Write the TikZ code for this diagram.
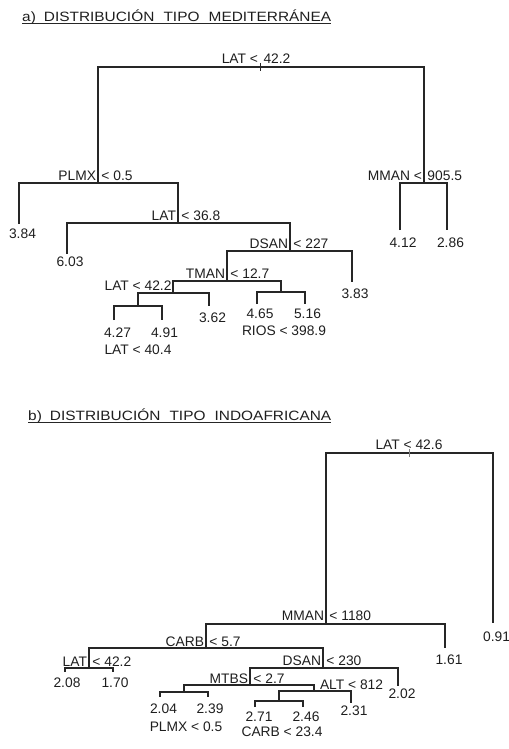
\documentclass[tikz,border=0pt]{standalone}
\usepackage{fontspec}
\setmainfont{Liberation Sans}
\usepackage{graphicx}
\usepackage{tikz}
\definecolor{ramita}{RGB}{38,38,38}
\definecolor{texto}{RGB}{30,30,30}
\newcommand{\letra}{\fontsize{13.8bp}{16bp}\selectfont}
\newcommand{\corte}[2]{\makebox[0pt][r]{#1\hspace{2bp}}\makebox[0pt][l]{\hspace{3.5bp}#2}}
\tikzset{rama/.style={draw=ramita, line width=1.6bp},
  marca/.style={draw=ramita, line width=0.8bp},
  lab/.style={anchor=base, inner sep=0pt, text=texto, font=\letra, yshift=3bp},
  val/.style={anchor=base, inner sep=0pt, text=texto, font=\letra},
  titulo/.style={anchor=base west, inner sep=0pt, text=texto, font=\fontsize{13.5bp}{16bp}\selectfont}}

\begin{document}
\begin{tikzpicture}[x=1bp,y=-1bp]
		 \useasboundingbox (0,0) rectangle (509,749);
		 % a) mediterranea
		 \node[titulo] (ta) at (22,21.7) {\resizebox{309bp}{\height}{a)\hspace{7bp}DISTRIBUCIÓN\hspace{8bp}TIPO\hspace{8bp}MEDITERRÁNEA}};
		 \draw[marca] ([yshift=-1.8bp]ta.base west) -- ([yshift=-1.8bp]ta.base east);

		 \coordinate (raiz) at (260,67);
		 \coordinate (plmx) at (98,183);
		 \coordinate (mman) at (424,183);
		 \coordinate (h384) at (19,224);
		 \coordinate (lat368) at (178,223);
		 \coordinate (h603) at (67,254);
		 \coordinate (dsan) at (290,251);
		 \coordinate (tman) at (227,281);
		 \coordinate (h383) at (352,282);
		 \coordinate (lat422) at (173,293);
		 \coordinate (rios) at (281,292);
		 \coordinate (lat404) at (138,306);
		 \coordinate (h362) at (209,306);
		 \coordinate (h427) at (114,320);
		 \coordinate (h491) at (162,320);
		 \coordinate (h465) at (257,304);
		 \coordinate (h516) at (305,304);
		 \coordinate (h412) at (400,230);
		 \coordinate (h286) at (447,230);

		 \draw[rama] (plmx) |- (raiz) -| (mman);
		 \draw[rama] (h384) |- (plmx) -| (lat368);
		 \draw[rama] (h603) |- (lat368) -| (dsan);
		 \draw[rama] (tman) |- (dsan) -| (h383);
		 \draw[rama] (lat422) |- (tman) -| (rios);
		 \draw[rama] (lat404) |- (lat422) -| (h362);
		 \draw[rama] (h427) |- (lat404) -| (h491);
		 \draw[rama] (h465) |- (rios) -| (h516);
		 \draw[rama] (h412) |- (mman) -| (h286);
		 \draw[marca] ([yshift=4bp]raiz) -- ([yshift=-4bp]raiz);

		 \node[lab] (lraiz) at (raiz) {\corte{LAT <}{42.2}};
		 \node[lab] (lplmx) at (plmx) {\corte{PLMX}{< 0.5}};
		 \node[lab] (llat368) at (lat368) {\corte{LAT}{< 36.8}};
		 \node[lab] (ldsan) at (dsan) {\corte{DSAN}{< 227}};
		 \node[lab] (ltman) at (tman) {\corte{TMAN}{< 12.7}};
		 \node[lab] (llat422) at (lat422) {\makebox[0pt][r]{LAT < 42.2\hspace{1.5bp}}};
		 \node[lab] (lmman) at (mman) {\corte{MMAN <}{905.5}};
		 \node[val] (llat404) at (138,354) {LAT < 40.4};
		 \node[val] (lrios) at (284,335) {RIOS < 398.9};

		 \node[val] (v384) at (22.5,238) {3.84};
		 \node[val] (v603) at (70,266) {6.03};
		 \node[val] (v383) at (355,298) {3.83};
		 \node[val] (v362) at (212.5,322) {3.62};
		 \node[val] (v465) at (260,318) {4.65};
		 \node[val] (v516) at (307.5,318) {5.16};
		 \node[val] (v427) at (117.5,337) {4.27};
		 \node[val] (v491) at (164.5,337) {4.91};
		 \node[val] (v412) at (403,247) {4.12};
		 \node[val] (v286) at (450.5,247) {2.86};

		 % b) indoafricana
		 \node[titulo] (tb) at (28,420.5) {\resizebox{303bp}{\height}{b)\hspace{7bp}DISTRIBUCIÓN\hspace{8bp}TIPO\hspace{8bp}INDOAFRICANA}};
		 \draw[marca] ([yshift=-1.8bp]tb.base west) -- ([yshift=-1.8bp]tb.base east);

		 \coordinate (raiz2) at (409,453);
		 \coordinate (mman2) at (326,624);
		 \coordinate (h091) at (493,623);
		 \coordinate (carb) at (206,648);
		 \coordinate (h161) at (445,648);
		 \coordinate (lat2) at (89,668);
		 \coordinate (dsan2) at (323,668);
		 \coordinate (h208) at (65,672);
		 \coordinate (h170) at (113,672);
		 \coordinate (mtbs) at (250,685);
		 \coordinate (h202) at (398,686);
		 \coordinate (plmx2) at (184,692);
		 \coordinate (alt) at (314,691);
		 \coordinate (h204) at (160,697);
		 \coordinate (h239) at (208,697);
		 \coordinate (carb2) at (279,701);
		 \coordinate (h231) at (351,703);
		 \coordinate (h271) at (255,707);
		 \coordinate (h246) at (303,707);

		 \draw[rama] (mman2) |- (raiz2) -| (h091);
		 \draw[rama] (carb) |- (mman2) -| (h161);
		 \draw[rama] (lat2) |- (carb) -| (dsan2);
		 \draw[rama] (h208) |- (lat2) -| (h170);
		 \draw[rama] (mtbs) |- (dsan2) -| (h202);
		 \draw[rama] (plmx2) |- (mtbs) -| (alt);
		 \draw[rama] (h204) |- (plmx2) -| (h239);
		 \draw[rama] (carb2) |- (alt) -| (h231);
		 \draw[rama] (h271) |- (carb2) -| (h246);
		 \draw[marca, draw=gray] ([yshift=4bp]raiz2) -- ([yshift=-4bp]raiz2);

		 \node[lab, yshift=1bp] (lraiz2) at (raiz2) {LAT < 42.6};
		 \node[lab, yshift=1bp] (lmman2) at (mman2) {\corte{MMAN}{< 1180}};
		 \node[lab, yshift=-1bp] (lcarb) at (carb) {\corte{CARB}{< 5.7}};
		 \node[lab, yshift=-1bp] (llat2) at (lat2) {\corte{LAT}{< 42.2}};
		 \node[lab] (ldsan2) at (dsan2) {\corte{DSAN}{< 230}};
		 \node[lab, yshift=-1bp] (lmtbs) at (mtbs) {\corte{MTBS}{< 2.7}};
		 \node[lab, yshift=-1bp] (lalt) at (alt) {\makebox[0pt][l]{\hspace{6bp}ALT < 812}};
		 \node[val] (lplmx2) at (186,731) {PLMX < 0.5};
		 \node[val] (lcarb2) at (282,736) {CARB < 23.4};

		 \node[val] (v091) at (496.5,641) {0.91};
		 \node[val] (v161) at (449,664) {1.61};
		 \node[val] (v208) at (67,687) {2.08};
		 \node[val] (v170) at (115,687) {1.70};
		 \node[val] (v202) at (402,698) {2.02};
		 \node[val] (v204) at (163.5,713) {2.04};
		 \node[val] (v239) at (210,713) {2.39};
		 \node[val] (v231) at (354,715) {2.31};
		 \node[val] (v271) at (259,721) {2.71};
		 \node[val] (v246) at (306,721) {2.46};
		\end{tikzpicture}
\end{document}
